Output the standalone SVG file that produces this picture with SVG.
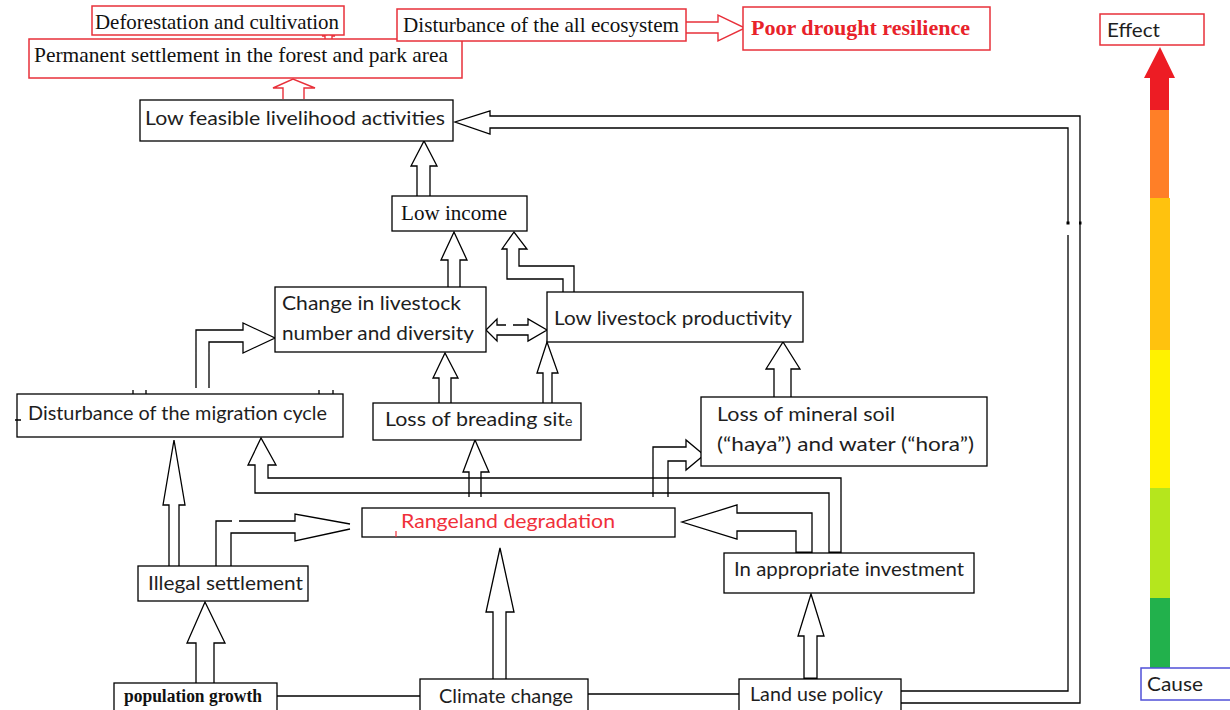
<svg xmlns="http://www.w3.org/2000/svg" width="1230" height="710" viewBox="0 0 1230 710">
<style>
.box{fill:#fff;stroke:#000;stroke-width:1.3}
.rbox{fill:#fff;stroke:#e8303a;stroke-width:1.5}
.bbox{fill:#fff;stroke:#5050d8;stroke-width:1.5}
.c{fill:none;stroke:#000;stroke-width:1.3;stroke-linejoin:miter}
.cr{fill:none;stroke:#e8303a;stroke-width:1.4}
.thick{stroke:#000;stroke-width:3}
.sans{font-family:Lato,"Liberation Sans",sans-serif;font-size:20px;fill:#1e1e1e}
.serif{font-family:"Liberation Serif","Times New Roman",serif;font-size:21px;fill:#111}
</style>
<rect width="1230" height="710" fill="#fff"/>

<g id="connectors">
  <!-- Low feasible -> Permanent settlement (red) -->
  <path class="cr" d="M283,99 V88 H273 L293,79 L315,88 H304 V99"/>
  <!-- small red mark between Deforestation and Permanent -->
  <path class="cr" d="M325,39 V36 H322 L328.5,34 L335,36 H332 V39"/>
  <!-- Disturbance of all ecosystem -> Poor drought -->
  <path class="cr" d="M686,22 H718 V15 L745,28 L718,41 V33 H686"/>
  <!-- Low income -> Low feasible -->
  <path class="c" d="M417,196 V166 H411 L424,141 L437,166 H430 V196"/>
  <!-- Change -> Low income -->
  <path class="c" d="M448,287 V260 H441 L454,232 L467,260 H460 V287"/>
  <!-- Low livestock productivity -> Low income -->
  <path class="c" d="M563,292 V279 H507 V249 H502 L514,232 L527,249 H519 V266 H574 V292"/>
  <!-- double arrow Change <-> Low livestock -->
  <path class="c" d="M486,330 L497,319 V325 H506 M513,325 H528 V319 L547,330 L528,341 V335 H497 V341 L486,330"/>
  <!-- Loss of breading -> Change -->
  <path class="c" d="M439,404 V378 H433 L445,353 L458,378 H451 V404"/>
  <!-- Loss of breading -> Low livestock -->
  <path class="c" d="M543,404 V373 H537 L547,342 L558,373 H552 V404"/>
  <!-- Loss of mineral -> Low livestock -->
  <path class="c" d="M774,397 V369 H766 L783,342 L800,369 H791 V397"/>
  <!-- Disturbance of migration -> Change -->
  <path class="c" d="M196,388 V330 H243 V323 L275,338 L243,353 V342 H209 V388"/>
  <!-- Illegal settlement -> Disturbance of migration -->
  <path class="c" d="M169,566 V505 H163 L174,440 L185,505 H179 V566"/>
  <!-- In appropriate investment -> Disturbance of migration -->
  <path class="c" d="M829,553 V493 H255 V465 H248 L261,438 L276,465 H268 V478 H841 V553"/>
  <line class="thick" x1="829" y1="553" x2="841" y2="553"/>
  <!-- Rangeland -> Loss of breading -->
  <path class="c" d="M469,497 V472 H463 L475,440 L489,472 H481 V497"/>
  <!-- Rangeland -> Loss of mineral -->
  <path class="c" d="M653,497 V447 H686 V440 L704,455 L686,470 V461 H668 V497"/>
  <!-- In appropriate -> Rangeland -->
  <path class="c" d="M796,553 V531 H737 V539 L682,522 L737,505 V513 H812 V553"/>
  <line class="thick" x1="796" y1="553" x2="812" y2="553"/>
  <!-- Illegal -> Rangeland -->
  <path class="c" d="M216,566 V521 H232 M239,521 H295 V514 L350,524 M350,529 L295,541 V533 H231 V566"/>
  <!-- Climate -> Rangeland -->
  <path class="c" d="M493,679 V612 H486 L500,548 L514,612 H506 V679"/>
  <!-- population -> Illegal -->
  <path class="c" d="M196,683 V643 H187 L205,602 L225,643 H214 V683"/>
  <!-- Land use -> In appropriate -->
  <path class="c" d="M804,679 V636 H798 L811,594 L824,636 H817 V679"/>
  <line class="thick" x1="804" y1="679" x2="817" y2="679"/>
  <!-- Land use -> Low feasible -->
  <path class="c" d="M901,703 H1080 V116 H490 V111 L455,122 L490,134 V128 H1068 V223 M1068,235 V691 H901"/>
  <rect x="1066.5" y="221.5" width="3" height="3" fill="#000"/>
  <rect x="1079" y="221.5" width="2.5" height="3" fill="#000"/>
  <!-- plain links -->
  <path class="c" d="M277,696 H420"/>
  <path class="c" d="M588,694 H739"/>
</g>

<g id="deforestation">
  <rect class="rbox" x="92" y="6" width="252" height="29"/>
  <text class="serif" x="95" y="29" textLength="244" lengthAdjust="spacingAndGlyphs">Deforestation and cultivation</text>
</g>
<g id="permanent-settlement">
  <rect class="rbox" x="29" y="39" width="433" height="39"/>
  <text class="serif" x="34" y="62" textLength="414" lengthAdjust="spacingAndGlyphs">Permanent settlement in the forest and park area</text>
</g>
<g id="ecosystem-disturbance">
  <rect class="rbox" x="397" y="9" width="289" height="32"/>
  <text class="serif" x="403" y="32" textLength="276" lengthAdjust="spacingAndGlyphs">Disturbance of the all ecosystem</text>
</g>
<g id="poor-drought">
  <rect class="rbox" x="743" y="7" width="247" height="43"/>
  <text class="serif" x="751" y="35" font-weight="bold" style="fill:#e8222a" textLength="219" lengthAdjust="spacingAndGlyphs">Poor drought resilience</text>
</g>
<g id="low-feasible">
  <rect class="box" x="140" y="100" width="313" height="41"/>
  <text class="sans" x="145" y="125" textLength="300" lengthAdjust="spacingAndGlyphs">Low feasible livelihood activities</text>
</g>
<g id="low-income">
  <rect class="box" x="392" y="196" width="135" height="35"/>
  <text class="serif" x="401" y="220" textLength="106" lengthAdjust="spacingAndGlyphs">Low income</text>
</g>
<g id="change-livestock">
  <rect class="box" x="275" y="287" width="211" height="65"/>
  <text class="sans" x="282" y="310" textLength="179" lengthAdjust="spacingAndGlyphs">Change in livestock</text>
  <text class="sans" x="282" y="340" textLength="192" lengthAdjust="spacingAndGlyphs">number and diversity</text>
</g>
<g id="low-productivity">
  <rect class="box" x="547" y="292" width="256" height="50"/>
  <text class="sans" x="554" y="325" textLength="238" lengthAdjust="spacingAndGlyphs">Low livestock productivity</text>
</g>
<g id="migration-cycle">
  <rect class="box" x="17" y="394" width="326" height="43"/>
  <text class="sans" x="28" y="420" textLength="299" lengthAdjust="spacingAndGlyphs">Disturbance of the migration cycle</text>
  <path class="c" d="M133,390 V394 M146,390 V394 M319,390 V394 M333,390 V394 M15,420 H21"/>
</g>
<g id="breading-site">
  <rect class="box" x="373" y="403" width="208" height="37"/>
  <text class="sans" x="385" y="426"><tspan textLength="180" lengthAdjust="spacingAndGlyphs">Loss of breading sit</tspan><tspan font-size="14">e</tspan></text>
</g>
<g id="mineral-soil">
  <rect class="box" x="701" y="397" width="286" height="69"/>
  <text class="sans" x="717" y="421" textLength="178" lengthAdjust="spacingAndGlyphs">Loss of mineral soil</text>
  <text class="sans" x="717" y="451" textLength="257" lengthAdjust="spacingAndGlyphs">(“haya”) and water (“hora”)</text>
</g>
<g id="rangeland">
  <rect class="box" x="362" y="508" width="313" height="29"/>
  <text class="sans" x="401" y="528" style="fill:#f0303a" textLength="214" lengthAdjust="spacingAndGlyphs">Rangeland degradation</text>
  <line x1="396" y1="531" x2="396" y2="537" stroke="#f0303a" stroke-width="1.2"/>
</g>
<g id="inappropriate-investment">
  <rect class="box" x="724" y="553" width="250" height="40"/>
  <text class="sans" x="734" y="576" textLength="230" lengthAdjust="spacingAndGlyphs">In appropriate investment</text>
</g>
<g id="illegal-settlement">
  <rect class="box" x="138" y="566" width="170" height="35"/>
  <text class="sans" x="148" y="590" textLength="155" lengthAdjust="spacingAndGlyphs">Illegal settlement</text>
</g>
<g id="population-growth">
  <rect class="box" x="114" y="683" width="163" height="30"/>
  <text class="serif" x="124" y="702" font-weight="bold" style="font-size:18px" textLength="138" lengthAdjust="spacingAndGlyphs">population growth</text>
</g>
<g id="climate-change">
  <rect class="box" x="420" y="679" width="168" height="34"/>
  <text class="sans" x="439" y="703" textLength="134" lengthAdjust="spacingAndGlyphs">Climate change</text>
</g>
<g id="land-use-policy">
  <rect class="box" x="739" y="679" width="162" height="34"/>
  <text class="sans" x="750" y="701" textLength="133" lengthAdjust="spacingAndGlyphs">Land use policy</text>
</g>

<g id="scale">
  <rect x="1150" y="598" width="20" height="70" fill="#22b14c"/>
  <rect x="1150" y="488" width="20" height="110" fill="#b5e61d"/>
  <rect x="1150" y="350" width="20" height="138" fill="#fff200"/>
  <rect x="1150" y="198" width="20" height="152" fill="#ffc20e"/>
  <rect x="1150" y="110" width="19" height="88" fill="#ff7f27"/>
  <polygon points="1150,110 1150,78 1144,78 1160,47 1175,78 1169,78 1169,110" fill="#ed1c24"/>
</g>
<g id="effect">
  <rect class="rbox" x="1100" y="14" width="104" height="31"/>
  <text class="sans" x="1107" y="37" textLength="53" lengthAdjust="spacingAndGlyphs">Effect</text>
</g>
<g id="cause">
  <rect class="bbox" x="1141" y="668" width="92" height="32"/>
  <text class="sans" x="1147" y="691" textLength="56" lengthAdjust="spacingAndGlyphs">Cause</text>
</g>
</svg>
